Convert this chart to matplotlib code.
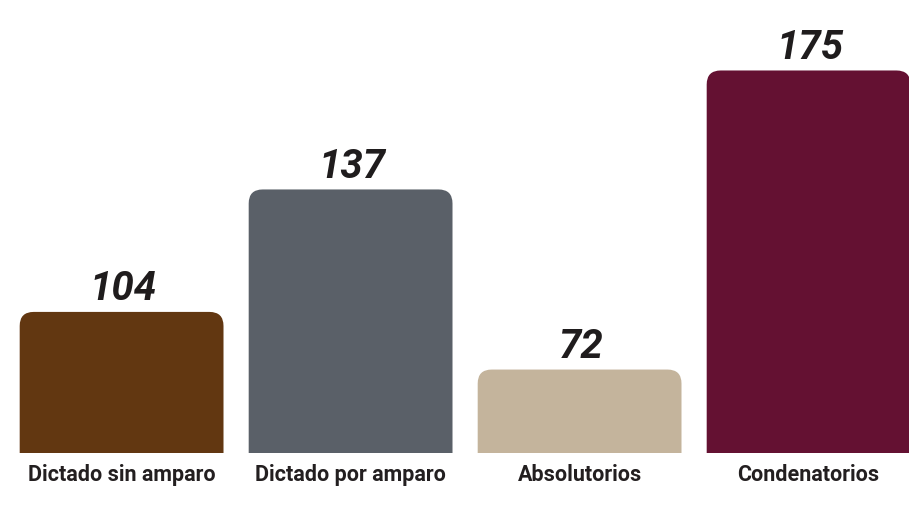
import matplotlib

matplotlib.use("Agg")

import matplotlib.pyplot as plt
from matplotlib.patches import FancyBboxPatch


CATEGORIES = ["Dictado sin amparo", "Dictado por amparo", "Absolutorios", "Condenatorios"]
COUNTS = [104, 137, 72, 175]
# the published graphic does not draw bars proportional to the counts,
# so these are the bar heights as they appear (scaled so 175 matches)
BAR_HEIGHTS = [64.4, 120.5, 38.0, 175.0]
COLORS = ["#623711", "#5a6068", "#c4b49c", "#641132"]

FIG_W, FIG_H, DPI = 909, 506, 100
BAR_SPACING_PX = 229.0
BAR_WIDTH = 0.89
FIRST_CENTER_PX = 121.6
BASELINE_PX = 52.5          # from the bottom of the figure
PX_PER_UNIT_Y = 2.183
CORNER_PX = 14


def main():
    fig = plt.figure(figsize=(FIG_W / DPI, FIG_H / DPI), dpi=DPI)
    ax = fig.add_axes((0, BASELINE_PX / FIG_H, 1, 1 - BASELINE_PX / FIG_H))
    ax.set_xlim(-FIRST_CENTER_PX / BAR_SPACING_PX, (FIG_W - FIRST_CENTER_PX) / BAR_SPACING_PX)
    ax.set_ylim(0, (FIG_H - BASELINE_PX) / PX_PER_UNIT_Y)
    ax.axis("off")

    aspect = BAR_SPACING_PX / PX_PER_UNIT_Y
    radius = CORNER_PX / BAR_SPACING_PX

    for i, (height, count, color) in enumerate(zip(BAR_HEIGHTS, COUNTS, COLORS)):
        left = i - BAR_WIDTH / 2
        # extend below the baseline so only the top corners look rounded
        bar = FancyBboxPatch(
            (left, -30),
            BAR_WIDTH,
            height + 30,
            boxstyle=f"round,pad=0,rounding_size={radius}",
            mutation_aspect=aspect,
            facecolor=color,
            edgecolor="none",
        )
        ax.add_patch(bar)
        ax.annotate(
            str(count),
            xy=(i, height),
            xytext=(1, 9),
            textcoords="offset points",
            ha="center",
            va="baseline",
            fontsize=29,
            fontweight="bold",
            fontstyle="italic",
            family=["Roboto", "DejaVu Sans"],
            color="#1f1c1d",
        )

    for i, name in enumerate(CATEGORIES):
        fig.text(
            (FIRST_CENTER_PX + i * BAR_SPACING_PX) / FIG_W,
            1 - 481.5 / FIG_H,
            name,
            ha="center",
            va="baseline",
            fontsize=15.5,
            fontweight="bold",
            family=["Roboto", "DejaVu Sans"],
            color="#231f20",
        )

    fig.savefig("out.png", dpi=DPI, facecolor="white")
    plt.close(fig)


if __name__ == "__main__":
    main()
